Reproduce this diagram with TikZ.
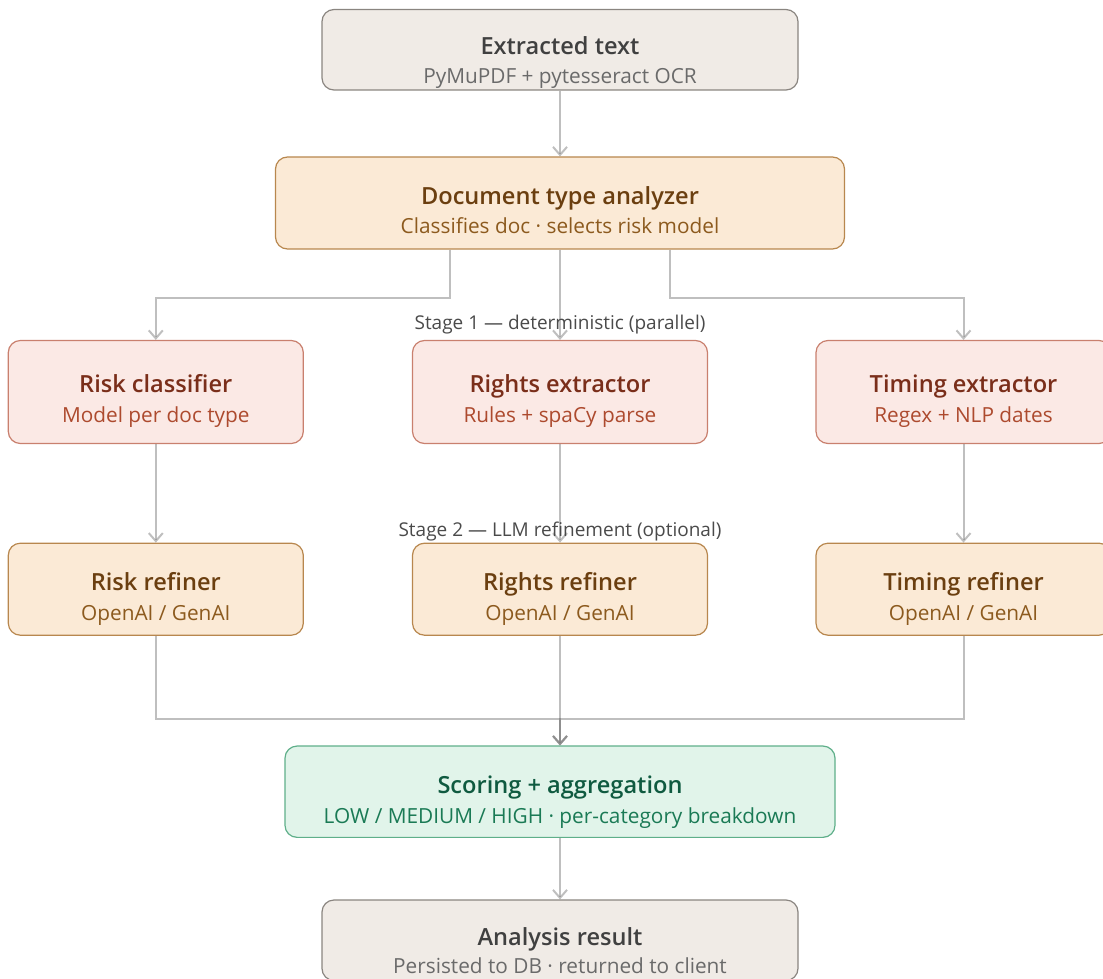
\documentclass[tikz,border=0pt]{standalone}
\usepackage{fontspec}
\IfFontExistsTF{Open Sans SemiBold}{%
  \setmainfont{Open Sans}[BoldFont={Open Sans SemiBold}]%
}{%
  \IfFontExistsTF{Open Sans Semibold}{%
    \setmainfont{Open Sans}[BoldFont={Open Sans Semibold}]%
  }{%
    \setmainfont{Open Sans}%
  }%
}
\usetikzlibrary{arrows.meta}
\definecolor{gfill}{HTML}{F0EBE6}
\definecolor{gdraw}{HTML}{8A8580}
\definecolor{gtitle}{HTML}{404040}
\definecolor{gsub}{HTML}{6A6A6A}
\definecolor{ofill}{HTML}{FBEAD6}
\definecolor{odraw}{HTML}{B8874E}
\definecolor{otitle}{HTML}{6B3F10}
\definecolor{osub}{HTML}{8C5A1E}
\definecolor{pfill}{HTML}{FBE9E5}
\definecolor{pdraw}{HTML}{C9806E}
\definecolor{ptitle}{HTML}{7A2E1A}
\definecolor{psub}{HTML}{AD4A2E}
\definecolor{tfill}{HTML}{E1F4EA}
\definecolor{tdraw}{HTML}{5FAF8A}
\definecolor{ttitle}{HTML}{0F5A40}
\definecolor{tsub}{HTML}{1A7A55}
\definecolor{conn}{HTML}{808080}
\definecolor{stagec}{HTML}{4A4A4A}
\begin{document}
\begin{tikzpicture}[x=1pt,y=-1pt,
  box/.style={rounded corners=12pt, line width=1.2pt, inner sep=0pt},
  gbox/.style={box, fill=gfill, draw=gdraw, minimum width=476pt, minimum height=80.5pt},
  obox/.style={box, fill=ofill, draw=odraw},
  pbox/.style={box, fill=pfill, draw=pdraw, minimum width=295pt, minimum height=103pt},
  rbox/.style={obox, minimum width=295pt, minimum height=92pt},
  tbox/.style={box, fill=tfill, draw=tdraw, minimum width=550pt, minimum height=91.3pt},
  ttl/.style={font=\fontsize{23.6}{27}\selectfont\bfseries, inner sep=0pt, anchor=base},
  sbt/.style={font=\fontsize{20.8}{24}\selectfont, inner sep=0pt, anchor=base},
  stg/.style={font=\fontsize{19}{22}\selectfont, text=stagec, inner sep=0pt, anchor=base},
  wire/.style={draw=conn, draw opacity=0.5, line width=2pt},
  arr/.style={wire, -{Straight Barb[length=8pt,width=14pt,line width=2pt]}}
]
\useasboundingbox (0,0) rectangle (1103,979);

% junction coordinates
\coordinate (jl) at (450,298);
\coordinate (jr) at (670,298);
\coordinate (jb) at (560,719);

% boxes
\node[gbox] (ext) at (560,49.75) {};
\node[obox, minimum width=569pt, minimum height=92pt] (doc) at (560,203) {};
\node[pbox] (rc) at (155.8,392) {};
\node[pbox] (re) at (560,392) {};
\node[pbox] (te) at (963.5,392) {};
\node[rbox] (rr) at (155.8,589.2) {};
\node[rbox] (gr) at (560,589.2) {};
\node[rbox] (tr) at (963.5,589.2) {};
\node[tbox] (sc) at (560,791.7) {};
\node[gbox] (ar) at (560,940.25) {};

% connectors
\draw[arr] (ext.south) -- (doc.north);
\draw[arr] (jl |- doc.south) -- (jl) -| (rc.north);
\draw[arr] (doc.south) -- (re.north);
\draw[arr] (jr |- doc.south) -- (jr) -| (te.north);
\draw[arr] (rc.south) -- (rr.north);
\draw[arr] (re.south) -- (gr.north);
\draw[arr] (te.south) -- (tr.north);
\draw[arr] (rr.south) |- (jb) -- (sc.north);
\draw[arr] (gr.south) -- (sc.north);
\draw[arr] (tr.south) |- (jb) -- (sc.north);
\draw[arr] (sc.south) -- (ar.north);

% texts
\node[ttl, text=gtitle] (extt) at (560,55) {Extracted text};
\node[sbt, text=gsub] (exts) at (560,83.3) {PyMuPDF + pytesseract OCR};
\node[ttl, text=otitle] (doct) at (560,204.3) {Document type analyzer};
\node[sbt, text=osub] (docs) at (560,233.3) {Classifies doc · selects risk model};
\node[stg] (st1) at (560,329.3) {Stage 1 — deterministic (parallel)};
\node[ttl, text=ptitle] (rct) at (155.8,392) {Risk classifier};
\node[sbt, text=psub] (rcs) at (155.8,422) {Model per doc type};
\node[ttl, text=ptitle] (ret) at (560,392) {Rights extractor};
\node[sbt, text=psub] (res) at (560,422) {Rules + spaCy parse};
\node[ttl, text=ptitle] (tet) at (963.5,392) {Timing extractor};
\node[sbt, text=psub] (tes) at (963.5,422) {Regex + NLP dates};
\node[stg] (st2) at (560,536) {Stage 2 — LLM refinement (optional)};
\node[ttl, text=otitle] (rrt) at (155.8,590.7) {Risk refiner};
\node[sbt, text=osub] (rrs) at (155.8,620.7) {OpenAI / GenAI};
\node[ttl, text=otitle] (grt) at (560,590.7) {Rights refiner};
\node[sbt, text=osub] (grs) at (560,620.7) {OpenAI / GenAI};
\node[ttl, text=otitle] (trt) at (963.5,590.7) {Timing refiner};
\node[sbt, text=osub] (trs) at (963.5,620.7) {OpenAI / GenAI};
\node[ttl, text=ttitle] (sct) at (560,793.3) {Scoring + aggregation};
\node[sbt, text=tsub] (scs) at (560,823.3) {LOW / MEDIUM / HIGH · per-category breakdown};
\node[ttl, text=gtitle] (art) at (560,945.5) {Analysis result};
\node[sbt, text=gsub] (ars) at (560,973.8) {Persisted to DB · returned to client};
\end{tikzpicture}
\end{document}
